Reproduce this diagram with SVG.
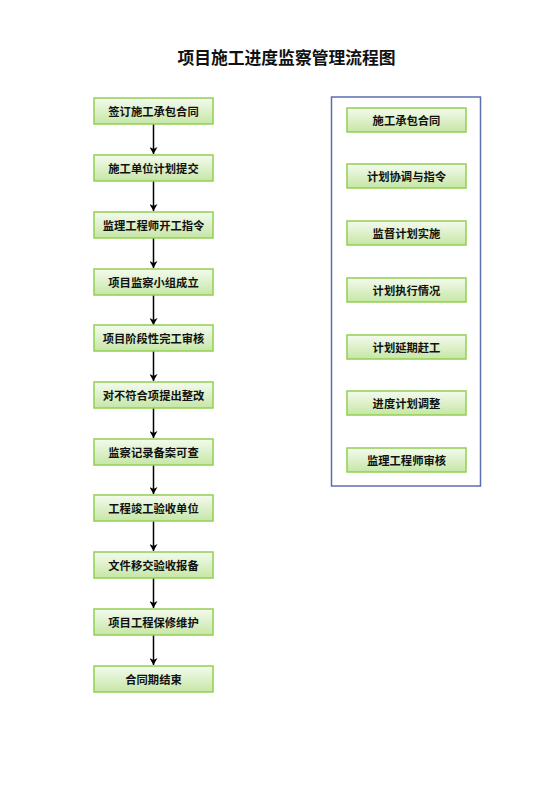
<svg xmlns="http://www.w3.org/2000/svg" width="560" height="792" viewBox="0 0 560 792">
<style>
.b{fill:url(#g);stroke:#92d050;stroke-width:1.5}
.t{font-family:"Noto Sans CJK SC","Liberation Sans",sans-serif;font-size:11.3px;font-weight:bold;fill:#111;text-anchor:middle;dominant-baseline:central}
.c{stroke:#000;stroke-width:1.5;fill:none;marker-end:url(#a)}
</style>
<defs>
<linearGradient id="g" x1="0" y1="0" x2="0" y2="1">
<stop offset="0" stop-color="#f4fbee"/>
<stop offset="1" stop-color="#c6e6a6"/>
</linearGradient>
<marker id="a" markerWidth="8" markerHeight="8" refX="7" refY="4" orient="auto" markerUnits="userSpaceOnUse">
<path d="M0,0 L7,4 L0,8 L2,4 Z" fill="#000"/>
</marker>
</defs>
<rect width="560" height="792" fill="#fff"/>
<text x="286.5" y="57" font-family="'Noto Sans CJK SC','Liberation Sans',sans-serif" font-size="16.8" font-weight="bold" text-anchor="middle" dominant-baseline="central" fill="#111">项目施工进度监察管理流程图</text>
<g id="connectors">
<line class="c" x1="153.5" y1="124" x2="153.5" y2="154"/>
<line class="c" x1="153.5" y1="181" x2="153.5" y2="211"/>
<line class="c" x1="153.5" y1="238" x2="153.5" y2="268"/>
<line class="c" x1="153.5" y1="295" x2="153.5" y2="325"/>
<line class="c" x1="153.5" y1="351" x2="153.5" y2="381"/>
<line class="c" x1="153.5" y1="408" x2="153.5" y2="438"/>
<line class="c" x1="153.5" y1="465" x2="153.5" y2="494"/>
<line class="c" x1="153.5" y1="521" x2="153.5" y2="551"/>
<line class="c" x1="153.5" y1="578" x2="153.5" y2="608"/>
<line class="c" x1="153.5" y1="635" x2="153.5" y2="665"/>
</g>
<g id="n1"><rect class="b" x="94" y="98" width="119" height="26"/><text class="t" x="153.5" y="111">签订施工承包合同</text></g>
<g id="n2"><rect class="b" x="94" y="155" width="119" height="26"/><text class="t" x="153.5" y="168">施工单位计划提交</text></g>
<g id="n3"><rect class="b" x="94" y="212" width="119" height="26"/><text class="t" x="153.5" y="225">监理工程师开工指令</text></g>
<g id="n4"><rect class="b" x="94" y="269" width="119" height="26"/><text class="t" x="153.5" y="282">项目监察小组成立</text></g>
<g id="n5"><rect class="b" x="94" y="325" width="119" height="26"/><text class="t" x="153.5" y="338">项目阶段性完工审核</text></g>
<g id="n6"><rect class="b" x="94" y="382" width="119" height="26"/><text class="t" x="153.5" y="395">对不符合项提出整改</text></g>
<g id="n7"><rect class="b" x="94" y="439" width="119" height="26"/><text class="t" x="153.5" y="452">监察记录备案可查</text></g>
<g id="n8"><rect class="b" x="94" y="495" width="119" height="26"/><text class="t" x="153.5" y="508">工程竣工验收单位</text></g>
<g id="n9"><rect class="b" x="94" y="552" width="119" height="26"/><text class="t" x="153.5" y="565">文件移交验收报备</text></g>
<g id="n10"><rect class="b" x="94" y="609" width="119" height="26"/><text class="t" x="153.5" y="622">项目工程保修维护</text></g>
<g id="n11"><rect class="b" x="94" y="666" width="119" height="26"/><text class="t" x="153.5" y="679">合同期结束</text></g>
<g id="frame"><rect x="331.5" y="97" width="149" height="389" fill="none" stroke="#5b6fae" stroke-width="1.5"/></g>
<g id="r1"><rect class="b" x="347" y="108" width="119" height="24"/><text class="t" x="406.5" y="120">施工承包合同</text></g>
<g id="r2"><rect class="b" x="347" y="164" width="119" height="24"/><text class="t" x="406.5" y="176">计划协调与指令</text></g>
<g id="r3"><rect class="b" x="347" y="221" width="119" height="24"/><text class="t" x="406.5" y="233">监督计划实施</text></g>
<g id="r4"><rect class="b" x="347" y="278" width="119" height="24"/><text class="t" x="406.5" y="290">计划执行情况</text></g>
<g id="r5"><rect class="b" x="347" y="335" width="119" height="24"/><text class="t" x="406.5" y="347">计划延期赶工</text></g>
<g id="r6"><rect class="b" x="347" y="391" width="119" height="24"/><text class="t" x="406.5" y="403">进度计划调整</text></g>
<g id="r7"><rect class="b" x="347" y="448" width="119" height="24"/><text class="t" x="406.5" y="460">监理工程师审核</text></g>
</svg>
